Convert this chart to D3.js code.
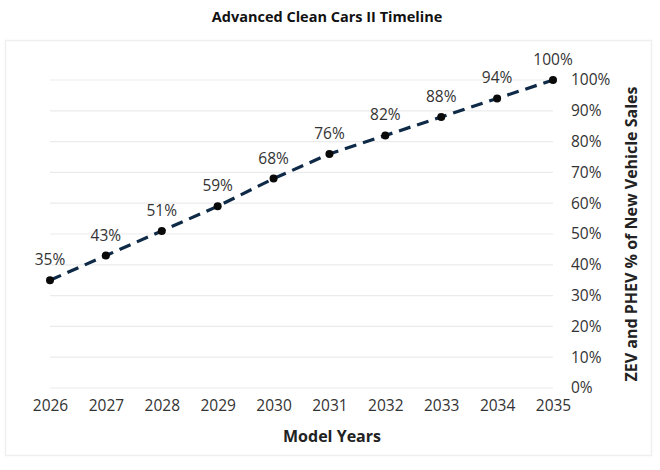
<!DOCTYPE html>
<html><head><meta charset="utf-8">
<script src="https://cdn.jsdelivr.net/npm/d3@7"></script>
<style>body{margin:0;background:#fff}svg{display:block}</style>
</head><body>
<svg id="c" width="660" height="470"></svg>
<script>
const years = [2026,2027,2028,2029,2030,2031,2032,2033,2034,2035];
const shares = [35,43,51,59,68,76,82,88,94,100];
const yTicks = [0,10,20,30,40,50,60,70,80,90,100];
const title = "Advanced Clean Cars II Timeline";
const xTitle = "Model Years";
const yTitle = "ZEV and PHEV % of New Vehicle Sales";

const svg = d3.select("#c");
const font = "'Open Sans', Lato, sans-serif";
const x = d3.scaleLinear().domain([2026,2035]).range([50,553]);
const y = d3.scaleLinear().domain([0,100]).range([388,80]);

svg.append("rect").attr("x",5.5).attr("y",40.5).attr("width",646).attr("height",415)
  .attr("fill","none").attr("stroke","#efefef").attr("stroke-width",1.5);

svg.append("text").attr("x",327).attr("y",22).attr("text-anchor","middle")
  .attr("font-family","'Open Sans', sans-serif").attr("font-weight","bold").attr("font-size",14.5)
  .attr("fill","#111").text(title);

// grid
svg.append("g").selectAll("line").data(yTicks).join("line")
  .attr("x1",50).attr("x2",553).attr("y1",d=>y(d)).attr("y2",d=>y(d))
  .attr("stroke","#ebebeb").attr("stroke-width",1.2);

// right axis
const ya = d3.axisRight(y).tickValues(yTicks).tickFormat(d=>d+"%").tickSize(0).tickPadding(0);
const gy = svg.append("g").attr("transform","translate(571,0)").call(ya);
gy.select(".domain").remove();
gy.selectAll("text").attr("font-family",font).attr("font-size",15.5).attr("fill","#333");

// bottom axis
const xa = d3.axisBottom(x).tickValues(years).tickFormat(d3.format("d")).tickSize(0).tickPadding(0);
const gx = svg.append("g").attr("transform","translate(0,400)").call(xa);
gx.select(".domain").remove();
gx.selectAll("text").attr("font-family",font).attr("font-size",15.5).attr("fill","#333");

svg.append("text").attr("x",332).attr("y",442).attr("text-anchor","middle")
  .attr("font-family",font).attr("font-weight","bold").attr("font-size",16).attr("fill","#222").text(xTitle);

svg.append("text").attr("transform","translate(637,234) rotate(-90)").attr("text-anchor","middle")
  .attr("font-family",font).attr("font-weight","bold").attr("font-size",16).attr("fill","#222").text(yTitle);

const data = years.map((yr,i)=>({yr,v:shares[i]}));
svg.append("path").datum(data)
  .attr("d", d3.line().x(d=>x(d.yr)).y(d=>y(d.v)))
  .attr("fill","none").attr("stroke","#0e2a47").attr("stroke-width",3.2).attr("stroke-dasharray","12,7");

svg.append("g").selectAll("circle").data(data).join("circle")
  .attr("cx",d=>x(d.yr)).attr("cy",d=>y(d.v)).attr("r",4).attr("fill","#0a0a0a");

svg.append("g").selectAll("text").data(data).join("text")
  .attr("x",d=>x(d.yr)).attr("y",d=>y(d.v)-15).attr("text-anchor","middle")
  .attr("font-family",font).attr("font-size",15.5).attr("fill","#333").text(d=>d.v+"%");
</script>
</body></html>
